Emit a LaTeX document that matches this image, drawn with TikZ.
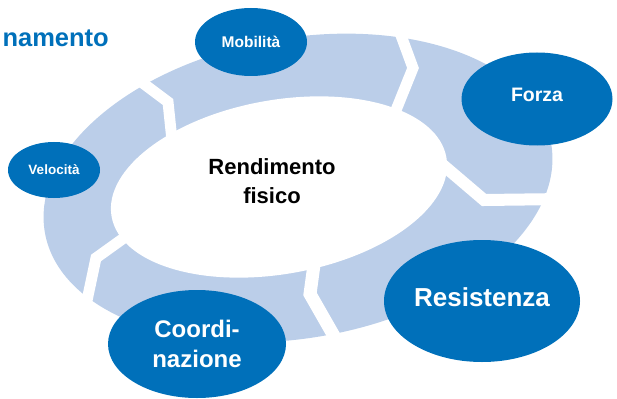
\documentclass[tikz,border=0pt]{standalone}
\usepackage{fontspec}
\setmainfont{Liberation Sans}
\usetikzlibrary{shapes}
\definecolor{deepblue}{RGB}{0,112,186}
\definecolor{paleblue}{RGB}{187,206,233}

\begin{document}
\begin{tikzpicture}
		[x=1pt, y=-1pt,
		 bubble/.style = {shape=ellipse, fill=deepblue, text=white, inner sep=0pt, align=center},
		 gap/.style    = {draw=white, line width=11pt, line join=miter},
		]
		\useasboundingbox (0,0) rectangle (617,398);

		% ring
		\fill[paleblue, rotate around={10:(298,188)}] (298,188) ellipse [x radius=257, y radius=150];
		\fill[white, rotate around={10:(279,187)}] (279,187) ellipse [x radius=170, y radius=87];

		% gaps between the segments
		\draw[gap] (136,78) -- (168,102) -- (173,150);
		\draw[gap] (399,30) -- (413,68) -- (390,125);
		\draw[gap, line width=12pt] (430,154) -- (484,200) -- (565,199);
		\draw[gap, line width=13pt] (316,250) -- (310,294) -- (342,350);
		\draw[gap] (135,230) -- (96,258) -- (85,310);

		\node [anchor=base east, inner sep=0pt, text=deepblue, font=\bfseries\fontsize{25.5}{30}\selectfont] (titolo) at (109,47) {namento};
		\node [align=center, font=\bfseries\fontsize{22}{29}\selectfont] (rendimento) at (272,181) {Rendimento\\fisico};

		\node [bubble, minimum width=112pt, minimum height=68pt, font=\bfseries\fontsize{15.5}{18}\selectfont]  (mobilita)   at (251,42)  {Mobilità};
		\node [bubble, minimum width=151pt, minimum height=93pt, text depth=9pt, font=\bfseries\fontsize{19.5}{22}\selectfont]  (forza) at (537,99) {Forza};
		\node [bubble, minimum width=92pt,  minimum height=56pt, font=\bfseries\fontsize{13.5}{16}\selectfont]  (velocita)   at (54,170)  {Velocità};
		\node [bubble, minimum width=196pt, minimum height=122pt, text depth=7pt, font=\bfseries\fontsize{26}{30}\selectfont] (resistenza) at (482,301) {Resistenza};
		\node [bubble, minimum width=178pt, minimum height=108pt, font=\bfseries\fontsize{24}{30}\selectfont] (coordinazione) at (197,344) {Coordi-\\nazione};
\end{tikzpicture}
\end{document}
